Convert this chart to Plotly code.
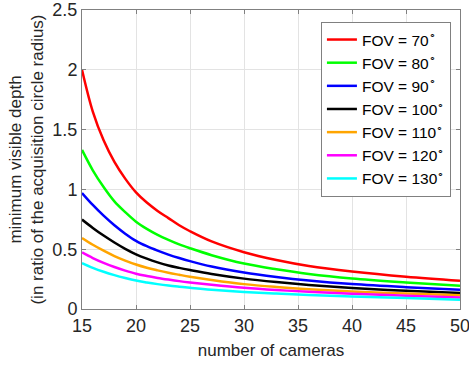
import plotly.graph_objects as go

cameras = [15, 16, 17, 18, 19, 20, 21, 22, 23, 24, 25, 27, 30, 33, 36, 40, 45, 50]
fov_labels = ["70", "80", "90", "100", "110", "120", "130"]
depth_fov70 = [2.0, 1.65, 1.41, 1.23, 1.09, 0.975, 0.89, 0.82, 0.76, 0.70, 0.65, 0.565, 0.475, 0.41, 0.36, 0.314, 0.27, 0.236]
depth_fov80 = [1.33, 1.16, 1.02, 0.90, 0.81, 0.73, 0.67, 0.62, 0.578, 0.54, 0.508, 0.45, 0.38, 0.332, 0.293, 0.255, 0.222, 0.194]
depth_fov90 = [0.97, 0.87, 0.78, 0.70, 0.63, 0.57, 0.525, 0.488, 0.455, 0.426, 0.40, 0.355, 0.305, 0.268, 0.238, 0.208, 0.182, 0.161]
depth_fov100 = [0.748, 0.678, 0.614, 0.556, 0.503, 0.457, 0.421, 0.39, 0.364, 0.344, 0.326, 0.293, 0.254, 0.225, 0.201, 0.176, 0.152, 0.133]
depth_fov110 = [0.593, 0.537, 0.488, 0.443, 0.405, 0.372, 0.345, 0.323, 0.303, 0.286, 0.27, 0.243, 0.208, 0.184, 0.165, 0.147, 0.129, 0.114]
depth_fov120 = [0.473, 0.426, 0.386, 0.351, 0.321, 0.295, 0.276, 0.26, 0.246, 0.233, 0.222, 0.203, 0.178, 0.159, 0.144, 0.128, 0.111, 0.097]
depth_fov130 = [0.384, 0.344, 0.311, 0.283, 0.259, 0.238, 0.222, 0.208, 0.196, 0.186, 0.177, 0.161, 0.143, 0.129, 0.117, 0.105, 0.091, 0.078]
x_ticks = [15, 20, 25, 30, 35, 40, 45, 50]
y_ticks = [0, 0.5, 1, 1.5, 2, 2.5]
y_tick_text = ["0", "0.5", "1", "1.5", "2", "2.5"]

series = [depth_fov70, depth_fov80, depth_fov90, depth_fov100,
          depth_fov110, depth_fov120, depth_fov130]
colors = ["#ff0000", "#00ff00", "#0000ff", "#000000", "#ffa500", "#ff00ff", "#00ffff"]

fig = go.Figure()
for lab, vals, col in zip(fov_labels, series, colors):
    fig.add_trace(go.Scatter(
        x=cameras, y=vals, mode="lines",
        line=dict(color=col, width=2.5, shape="spline", smoothing=1.0),
        name="FOV = " + lab + "<sup>∘</sup>",
    ))

axis_common = dict(
    showgrid=True, gridcolor="#e3e3e3", gridwidth=1,
    showline=True, linecolor="#808080", linewidth=1, mirror="ticks",
    ticks="inside", ticklen=4, tickcolor="#808080",
    tickfont=dict(size=18, color="#262626"), zeroline=False,
    ticklabeloverflow="allow", automargin=False,
)

fig.update_layout(
    width=469, height=365,
    margin=dict(l=82, r=9, t=10, b=56),
    paper_bgcolor="white", plot_bgcolor="white",
    font=dict(family="Liberation Sans, Arial, sans-serif", color="#262626"),
    xaxis=dict(range=[15, 50], tickvals=x_ticks,
               title=dict(text="number of cameras", font=dict(size=17), standoff=9),
               **axis_common),
    yaxis=dict(range=[0, 2.5], tickvals=y_ticks, ticktext=y_tick_text,
               title=dict(text="minimum visible depth<br>(in ratio of the acquisition circle radius)",
                          font=dict(size=17), standoff=4),
               **axis_common),
    legend=dict(x=0.976, y=0.96, xanchor="right", yanchor="top",
                bgcolor="white", bordercolor="#808080", borderwidth=1,
                font=dict(size=15.5, color="#000000"), tracegroupgap=0),
    showlegend=True,
)

fig.write_html("out.html", config={"displayModeBar": False},
               post_script="document.body.style.margin='0';")
